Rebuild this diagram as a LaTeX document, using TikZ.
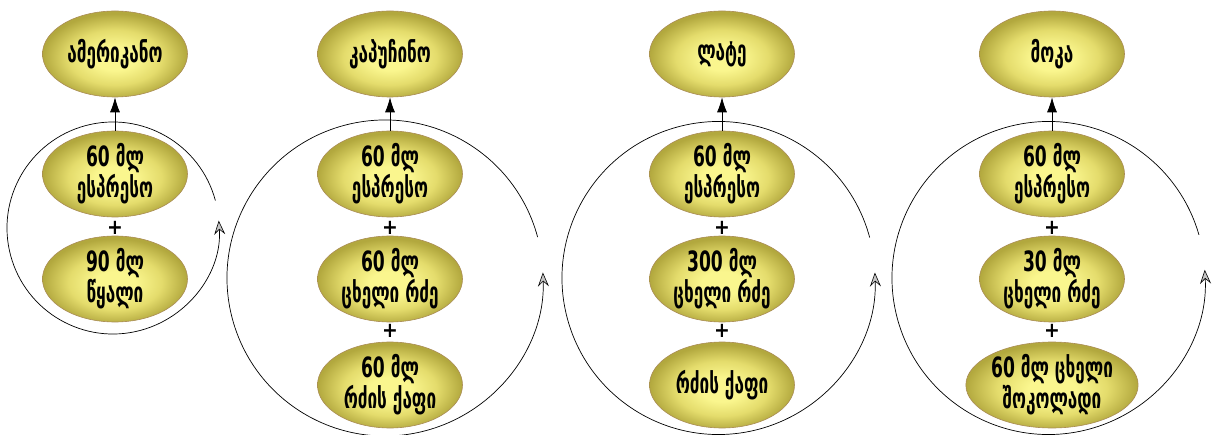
\documentclass[tikz,border=0pt]{standalone}
\usepackage{fontspec}
\setmainfont{DejaVu Sans Condensed}
\newfontfamily\geo{DejaVu Sans Condensed}[FakeStretch=0.68]
\usetikzlibrary{arrows.meta,shapes.geometric}
\definecolor{olivein}{RGB}{250,246,142}
\definecolor{olivemid}{RGB}{228,220,108}
\definecolor{oliveout}{RGB}{178,168,62}
\definecolor{oliveedge}{RGB}{170,140,85}
\pgfdeclareradialshading{cupshade}{\pgfpoint{0bp}{-3bp}}{%
  color(0bp)=(olivein); color(7bp)=(olivein); color(16bp)=(olivemid);
  color(25bp)=(oliveout); color(50bp)=(oliveout)}
\tikzset{
  cup/.style={ellipse, draw=oliveedge, line width=0.6pt, shading=cupshade,
    minimum width=145pt, minimum height=86pt, inner sep=0pt,
    align=center, font=\geo\fontsize{28}{31}\selectfont\bfseries},
  plus/.style={font=\fontsize{21}{21}\selectfont\bfseries, inner sep=0pt},
  makes/.style={line width=0.8pt, -{Latex[length=15pt,width=10pt]}},
  cycle/.style={line width=0.7pt, -{Stealth[length=14pt,width=11pt,inset=5pt,fill=gray!45,line width=0.6pt]}}
}
\begin{document}
\begin{tikzpicture}[x=1pt,y=1pt]
\useasboundingbox (0,0) rectangle (1217,434);
% ---------- group 1: americano
\coordinate (c1) at (113,206);
\draw[cycle] ([shift={(15:106)}]c1) arc[start angle=15, end angle=364, radius=106];
\node[cup] (t1) at (115,380) {ამერიკანო};
\node[cup] (a1) at (115,260) {60 მლ\\ესპრესო};
\node[plus] (p1a) at (115,206) {+};
\node[cup] (b1) at (115,155) {90 მლ\\წყალი};
\draw[makes] (a1.north) -- (t1.south);
% ---------- group 2: cappuccino
\coordinate (c2) at (385,156);
\draw[cycle] ([shift={(15:158)}]c2) arc[start angle=15, end angle=362, radius=158];
\node[cup] (t2) at (390,380) {კაპუჩინო};
\node[cup] (a2) at (390,260) {60 მლ\\ესპრესო};
\node[plus] (p2a) at (390,206) {+};
\node[cup] (b2) at (390,155) {60 მლ\\ცხელი რძე};
\node[plus] (p2b) at (390,103) {+};
\node[cup] (d2) at (390,49) {60 მლ\\რძის ქაფი};
\draw[makes] (a2.north) -- (t2.south);
% ---------- group 3: latte
\coordinate (c3) at (718.5,156);
\draw[cycle] ([shift={(15:156.5)}]c3) arc[start angle=15, end angle=362, radius=156.5];
\node[cup] (t3) at (722,380) {ლატე};
\node[cup] (a3) at (722,260) {60 მლ\\ესპრესო};
\node[plus] (p3a) at (722,206) {+};
\node[cup] (b3) at (722,155) {300 მლ\\ცხელი რძე};
\node[plus] (p3b) at (722,103) {+};
\node[cup] (d3) at (722,49) {რძის ქაფი};
\draw[makes] (a3.north) -- (t3.south);
% ---------- group 4: mocha
\coordinate (c4) at (1048.5,156);
\draw[cycle] ([shift={(16:156.5)}]c4) arc[start angle=16, end angle=363, radius=156.5];
\node[cup] (t4) at (1052,380) {მოკა};
\node[cup] (a4) at (1052,260) {60 მლ\\ესპრესო};
\node[plus] (p4a) at (1052,206) {+};
\node[cup] (b4) at (1052,155) {30 მლ\\ცხელი რძე};
\node[plus] (p4b) at (1052,103) {+};
\node[cup] (d4) at (1052,49) {60 მლ ცხელი\\შოკოლადი};
\draw[makes] (a4.north) -- (t4.south);
\end{tikzpicture}
\end{document}
